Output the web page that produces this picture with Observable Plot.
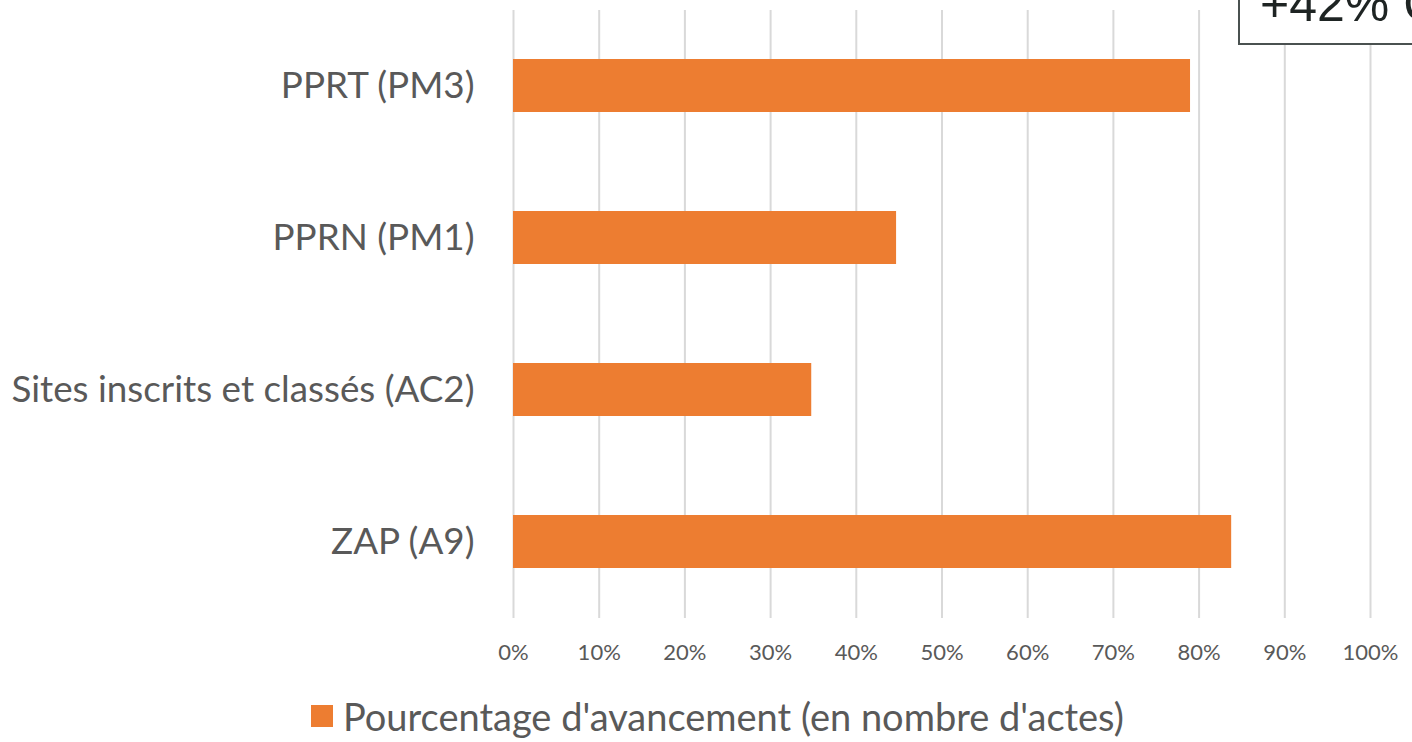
<!DOCTYPE html>
<html><head><meta charset="utf-8">
<script src="https://cdn.jsdelivr.net/npm/d3@7"></script>
<script src="https://cdn.jsdelivr.net/npm/@observablehq/plot@0.6"></script>
<style>
html,body{margin:0;padding:0;overflow:hidden;background:#fff;width:1412px;height:742px}
#wrap{position:relative;width:1412px;height:742px;overflow:hidden}
#chart svg{display:block}
#note{position:absolute;left:1238px;top:-37px;height:78px;line-height:78px;border:2px solid #4a5150;padding:0 20px;font-family:"Liberation Sans",Arial,sans-serif;font-size:50px;color:#1e2423;white-space:nowrap;background:#fff}
#legend{position:absolute;left:311px;top:693px;display:flex;align-items:center;font-family:Lato,sans-serif;font-size:38px;color:#595959;white-space:nowrap}
#legend .sw{width:22px;height:22px;margin-right:10px;background:#ED7D31}
</style></head><body>
<div id="wrap"><div id="chart"></div><div id="note"></div><div id="legend"></div></div>
<script>
const categories = ["PPRT (PM3)", "PPRN (PM1)", "Sites inscrits et classés (AC2)", "ZAP (A9)"];
const values = [0.79, 0.447, 0.348, 0.838];
const tickValues = [0, 0.1, 0.2, 0.3, 0.4, 0.5, 0.6, 0.7, 0.8, 0.9, 1.0];
const seriesName = "Pourcentage d'avancement (en nombre d'actes)";
const annotation = "+42% C";
const barColor = "#ED7D31";

const data = categories.map((c, i) => ({category: c, value: values[i]}));
const pct = d3.format(".0%");

const chart = Plot.plot({
  width: 1412,
  height: 680,
  marginLeft: 513,
  marginRight: 42,
  marginTop: 10,
  marginBottom: 62,
  style: {fontFamily: "Lato, sans-serif", background: "#fff", color: "#595959"},
  x: {domain: [0, 1], label: null},
  y: {domain: categories, paddingInner: 0.65, paddingOuter: 0.325, label: null},
  marks: [
    Plot.gridX(tickValues, {stroke: "#d9d9d9", strokeOpacity: 1, strokeWidth: 2}),
    Plot.barX(data, {x: "value", y: "category", fill: barColor}),
    Plot.axisX({ticks: tickValues, tickFormat: pct, tickSize: 0, tickPadding: 26, fontSize: 22, fill: "#595959", label: null}),
    Plot.axisY({tickSize: 0, tickPadding: 39, fontSize: 36.8, fill: "#595959", label: null})
  ]
});
document.getElementById("chart").appendChild(chart);
document.getElementById("note").textContent = annotation;
const lg = document.getElementById("legend");
const sw = document.createElement("span"); sw.className = "sw"; lg.appendChild(sw);
const tx = document.createElement("span"); tx.textContent = seriesName; lg.appendChild(tx);
</script>
</body></html>
